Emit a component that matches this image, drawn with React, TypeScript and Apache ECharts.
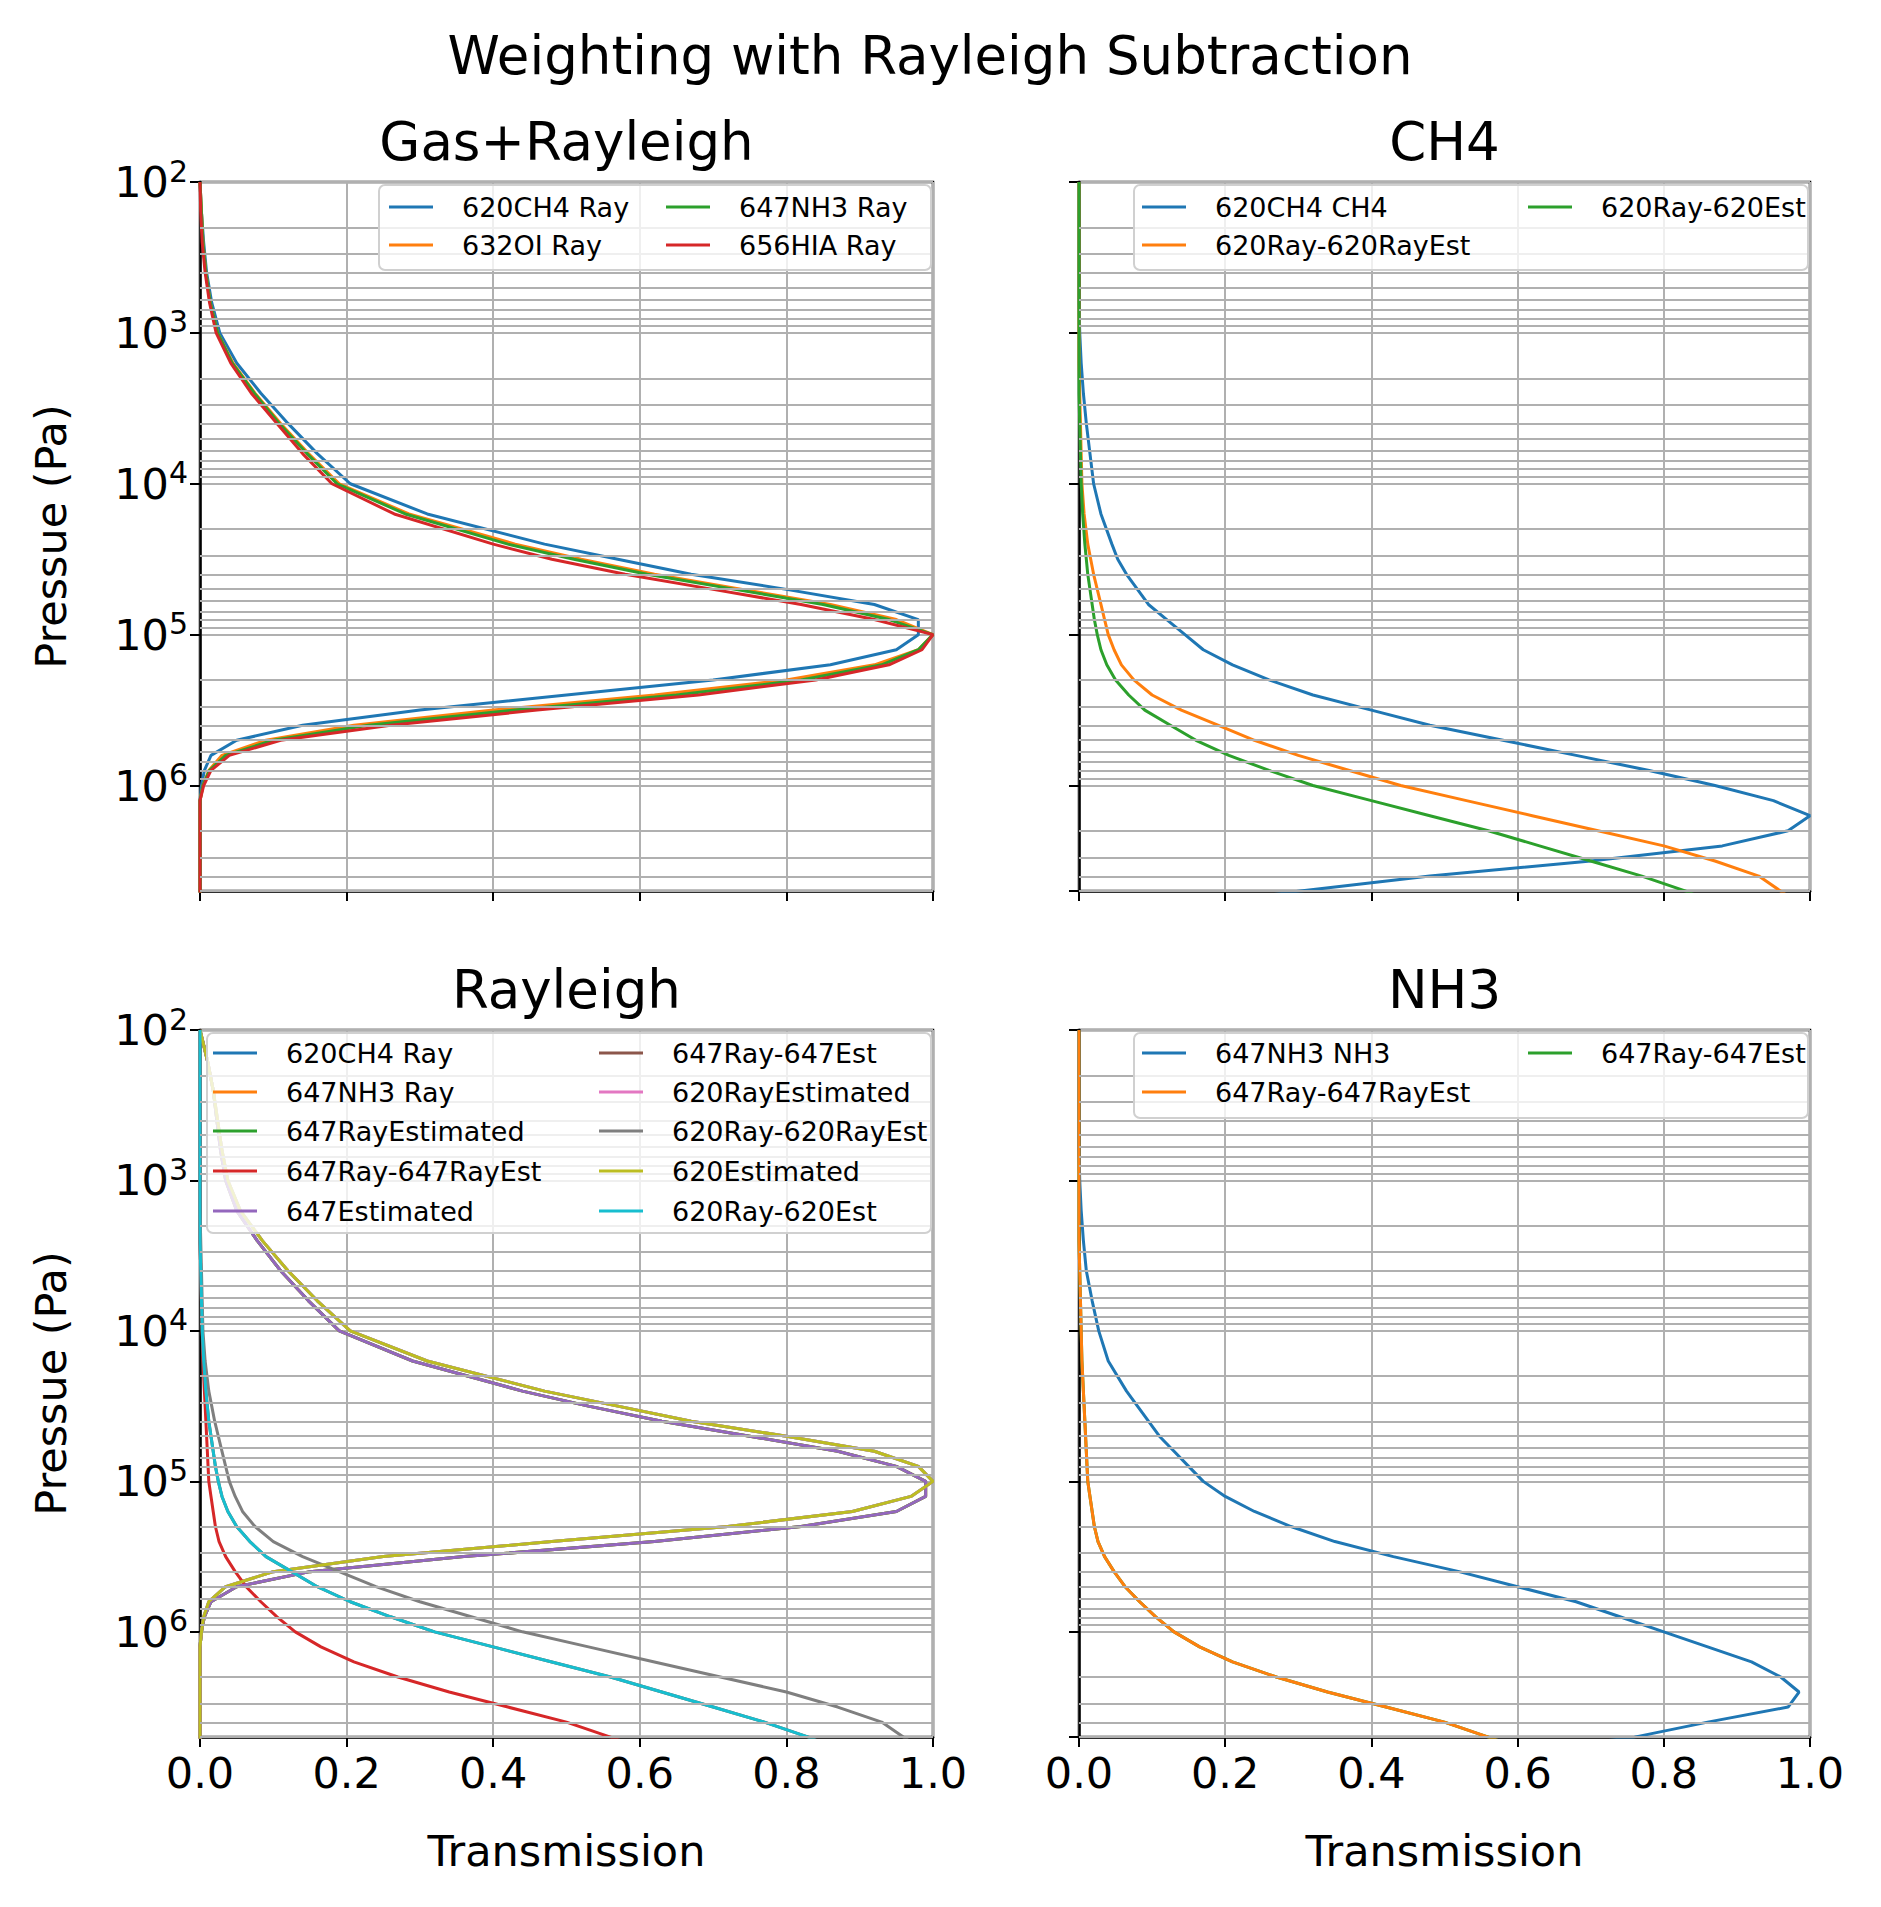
import { useEffect, useRef } from 'react'
import * as echarts from 'echarts'

const FONT = 'DejaVu Sans'

// log10 of pressure levels (Pa)
const LOG_P = [
  2.0, 2.2, 2.4, 2.6, 2.8, 3.0, 3.2, 3.4, 3.6, 3.8, 4.0, 4.2, 4.4, 4.5, 4.6, 4.7, 4.8, 4.9, 5.0,
  5.1, 5.2, 5.3, 5.4, 5.5, 5.6, 5.7, 5.8, 5.9, 6.0, 6.1, 6.2, 6.3, 6.4, 6.5, 6.6, 6.7, 6.8,
]
const PRESSURE = LOG_P.map((e) => 10 ** e)

// Gas+Rayleigh
const ray620CH4 = [0, 0.002, 0.005, 0.009, 0.016, 0.027, 0.05, 0.083, 0.12, 0.16, 0.205, 0.31, 0.47, 0.57, 0.67, 0.8, 0.92, 0.98, 0.98, 0.95, 0.86, 0.7, 0.5, 0.3, 0.14, 0.05, 0.015, 0.006, 0.002, 0, 0, 0, 0, 0, 0, 0, 0]
const ray632OI = [0, 0.002, 0.004, 0.008, 0.014, 0.024, 0.045, 0.075, 0.11, 0.148, 0.19, 0.285, 0.43, 0.52, 0.62, 0.74, 0.86, 0.95, 1.0, 0.98, 0.92, 0.8, 0.62, 0.4, 0.21, 0.09, 0.03, 0.012, 0.004, 0, 0, 0, 0, 0, 0, 0, 0]
const ray647NH3 = [0, 0.002, 0.004, 0.008, 0.014, 0.024, 0.044, 0.074, 0.108, 0.146, 0.187, 0.28, 0.42, 0.51, 0.61, 0.73, 0.85, 0.94, 1.0, 0.98, 0.93, 0.82, 0.65, 0.43, 0.23, 0.1, 0.035, 0.013, 0.004, 0, 0, 0, 0, 0, 0, 0, 0]
const ray656HIA = [0, 0.001, 0.003, 0.007, 0.013, 0.022, 0.042, 0.07, 0.105, 0.14, 0.18, 0.265, 0.4, 0.48, 0.58, 0.7, 0.82, 0.92, 1.0, 0.985, 0.94, 0.84, 0.68, 0.46, 0.26, 0.11, 0.04, 0.015, 0.005, 0, 0, 0, 0, 0, 0, 0, 0]

// CH4
const ch4_620 = [0, 0, 0, 0, 0, 0.001, 0.003, 0.006, 0.01, 0.015, 0.02, 0.03, 0.045, 0.053, 0.065, 0.08, 0.095, 0.12, 0.145, 0.17, 0.21, 0.26, 0.32, 0.4, 0.48, 0.58, 0.68, 0.78, 0.87, 0.95, 1.0, 0.97, 0.88, 0.7, 0.48, 0.3, 0.15]
const ray620MinusRayEst = [0, 0, 0, 0, 0, 0, 0, 0.001, 0.002, 0.003, 0.004, 0.007, 0.012, 0.016, 0.02, 0.025, 0.03, 0.035, 0.04, 0.048, 0.058, 0.075, 0.1, 0.14, 0.19, 0.24, 0.3, 0.37, 0.44, 0.53, 0.62, 0.71, 0.8, 0.87, 0.93, 0.96, 0.99]
const ray620MinusEst = [0, 0, 0, 0, 0, 0, 0, 0, 0.001, 0.002, 0.003, 0.005, 0.008, 0.01, 0.012, 0.015, 0.018, 0.021, 0.025, 0.03, 0.038, 0.05, 0.068, 0.09, 0.125, 0.16, 0.205, 0.26, 0.32, 0.4, 0.48, 0.56, 0.63, 0.7, 0.77, 0.83, 0.88]

// Rayleigh
const est620 = [0, 0.01, 0.018, 0.024, 0.03, 0.038, 0.055, 0.085, 0.12, 0.16, 0.205, 0.31, 0.47, 0.57, 0.67, 0.8, 0.92, 0.98, 1.0, 0.97, 0.89, 0.72, 0.48, 0.25, 0.1, 0.035, 0.012, 0.005, 0.002, 0, 0, 0, 0, 0, 0, 0, 0]
const est647 = [0, 0.01, 0.018, 0.023, 0.028, 0.035, 0.05, 0.078, 0.11, 0.148, 0.19, 0.29, 0.44, 0.53, 0.63, 0.75, 0.87, 0.95, 0.99, 0.99, 0.95, 0.82, 0.62, 0.36, 0.15, 0.05, 0.015, 0.006, 0.002, 0, 0, 0, 0, 0, 0, 0, 0]

// NH3
const nh3_647 = [0, 0, 0, 0, 0, 0.001, 0.003, 0.006, 0.01, 0.018, 0.027, 0.04, 0.065, 0.08, 0.095, 0.11, 0.13, 0.15, 0.17, 0.2, 0.24, 0.29, 0.35, 0.43, 0.52, 0.6, 0.68, 0.74, 0.8, 0.86, 0.92, 0.96, 0.985, 0.97, 0.86, 0.76, 0.6]
const ray647MinusRayEst = [0, 0, 0, 0, 0, 0, 0, 0, 0.001, 0.002, 0.003, 0.004, 0.006, 0.007, 0.008, 0.009, 0.01, 0.011, 0.012, 0.015, 0.018, 0.021, 0.026, 0.035, 0.048, 0.063, 0.083, 0.105, 0.13, 0.165, 0.21, 0.27, 0.34, 0.42, 0.5, 0.56, 0.62]

const C = ['#1f77b4', '#ff7f0e', '#2ca02c', '#d62728', '#9467bd', '#8c564b', '#e377c2', '#7f7f7f', '#bcbd22', '#17becf']

type S = { name: string; values: number[]; color: string; z?: number }
type Panel = {
  title: string
  grid: { left: number; top: number; width: number; height: number }
  series: S[]
  legend: { x: number; y: number; w: number; h: number; cols: number[]; rows: number[]; perCol: number }
  leftLabels: boolean
  bottomLabels: boolean
}

const panels: Panel[] = [
  {
    title: 'Gas+Rayleigh',
    grid: { left: 200, top: 182, width: 733, height: 709 },
    series: [
      { name: '620CH4 Ray', values: ray620CH4, color: C[0] },
      { name: '632OI Ray', values: ray632OI, color: C[1] },
      { name: '647NH3 Ray', values: ray647NH3, color: C[2] },
      { name: '656HIA Ray', values: ray656HIA, color: C[3] },
    ],
    legend: { x: 379, y: 185, w: 552, h: 85, cols: [389, 666], rows: [207, 245], perCol: 2 },
    leftLabels: true,
    bottomLabels: false,
  },
  {
    title: 'CH4',
    grid: { left: 1079, top: 182, width: 731, height: 709 },
    series: [
      { name: '620CH4 CH4', values: ch4_620, color: C[0] },
      { name: '620Ray-620RayEst', values: ray620MinusRayEst, color: C[1] },
      { name: '620Ray-620Est', values: ray620MinusEst, color: C[2] },
    ],
    legend: { x: 1134, y: 185, w: 674, h: 85, cols: [1142, 1528], rows: [207, 245], perCol: 2 },
    leftLabels: false,
    bottomLabels: false,
  },
  {
    title: 'Rayleigh',
    grid: { left: 200, top: 1030, width: 733, height: 707 },
    series: [
      { name: '620CH4 Ray', values: est620, color: C[0], z: 1 },
      { name: '647NH3 Ray', values: est647, color: C[1], z: 1 },
      { name: '647RayEstimated', values: est647, color: C[2], z: 1 },
      { name: '647Ray-647RayEst', values: ray647MinusRayEst, color: C[3], z: 3 },
      { name: '647Estimated', values: est647, color: C[4], z: 3 },
      { name: '647Ray-647Est', values: ray620MinusEst, color: C[5], z: 1 },
      { name: '620RayEstimated', values: est620, color: C[6], z: 1 },
      { name: '620Ray-620RayEst', values: ray620MinusRayEst, color: C[7], z: 3 },
      { name: '620Estimated', values: est620, color: C[8], z: 3 },
      { name: '620Ray-620Est', values: ray620MinusEst, color: C[9], z: 3 },
    ],
    legend: { x: 207, y: 1033, w: 724, h: 200, cols: [213, 599], rows: [1053, 1092, 1131, 1171, 1211], perCol: 5 },
    leftLabels: true,
    bottomLabels: true,
  },
  {
    title: 'NH3',
    grid: { left: 1079, top: 1030, width: 731, height: 707 },
    series: [
      { name: '647NH3 NH3', values: nh3_647, color: C[0], z: 3 },
      { name: '647Ray-647RayEst', values: ray647MinusRayEst, color: C[1], z: 3 },
      { name: '647Ray-647Est', values: ray647MinusRayEst, color: C[2], z: 1 },
    ],
    legend: { x: 1134, y: 1033, w: 674, h: 85, cols: [1142, 1528], rows: [1053, 1092], perCol: 2 },
    leftLabels: false,
    bottomLabels: true,
  },
]

// minor log grid positions
const MINOR_P: number[] = []
for (let d = 2; d <= 6; d++) for (let m = 2; m <= 9; m++) if (m * 10 ** d <= 5e6) MINOR_P.push(m * 10 ** d)

export default function App() {
  const ref = useRef<HTMLDivElement>(null)

  useEffect(() => {
    if (!ref.current) return
    document.body.style.margin = '0'
    const chart = echarts.init(ref.current, null, { renderer: 'svg' })

    const graphic: any[] = [
      {
        type: 'text', x: 930, y: 55, z: 100,
        style: { text: 'Weighting with Rayleigh Subtraction', fontSize: 53, fontFamily: FONT, fill: '#000', textAlign: 'center', textVerticalAlign: 'middle' },
      },
    ]
    const series: any[] = []

    panels.forEach((p, gi) => {
      graphic.push({
        type: 'text', x: p.grid.left + p.grid.width / 2, y: p.grid.top - 41, z: 100,
        style: { text: p.title, fontSize: 53, fontFamily: FONT, fill: '#000', textAlign: 'center', textVerticalAlign: 'middle' },
      })
      const L = p.legend
      graphic.push({
        type: 'rect', shape: { x: L.x, y: L.y, width: L.w, height: L.h, r: 6 }, z: 50,
        style: { fill: 'rgba(255,255,255,0.8)', stroke: '#d0d0d0', lineWidth: 2 },
      })
      p.series.forEach((s, i) => {
        const col = Math.floor(i / L.perCol)
        const row = i % L.perCol
        const lx = L.cols[col]
        const ly = L.rows[row]
        graphic.push({
          type: 'line', z: 51, shape: { x1: lx, y1: ly, x2: lx + 44, y2: ly },
          style: { stroke: s.color, lineWidth: 3 },
        })
        graphic.push({
          type: 'text', x: lx + 73, y: ly, z: 51,
          style: { text: s.name, fontSize: 27, fontFamily: FONT, fill: '#000', textVerticalAlign: 'middle' },
        })
        series.push({
          type: 'line', name: s.name, xAxisIndex: gi, yAxisIndex: gi, z: s.z ?? 2,
          data: s.values.map((v, k) => [v, PRESSURE[k]]),
          showSymbol: false, symbol: 'none', lineStyle: { color: s.color, width: 3 }, itemStyle: { color: s.color },
        })
      })
      // minor grid lines and minor ticks
      series.push({
        type: 'line', xAxisIndex: gi, yAxisIndex: gi, z: 0, data: [[0, 100]], symbol: 'none',
        lineStyle: { opacity: 0 },
        markLine: {
          silent: true, symbol: 'none', label: { show: false }, animation: false,
          lineStyle: { color: '#b0b0b0', width: 2, type: 'solid' },
          data: MINOR_P.map((v) => ({ yAxis: v })),
        },
      })
      series.push({
        type: 'line', xAxisIndex: gi, yAxisIndex: gi, z: 5, data: [[0, 100]], symbol: 'none',
        lineStyle: { opacity: 0 }, clip: false,
        markLine: {
          silent: true, symbol: 'none', label: { show: false }, animation: false,
          lineStyle: { color: '#000', width: 1.5, type: 'solid' },
          data: MINOR_P.map((v) => [{ coord: [-0.009, v] }, { coord: [0, v] }]),
        },
      })
    })

    chart.setOption({
      animation: false,
      backgroundColor: '#fff',
      grid: panels.map((p) => ({ ...p.grid, show: true, borderColor: '#000', borderWidth: 2.5 })),
      xAxis: panels.map((p, gi) => ({
        gridIndex: gi, type: 'value', min: 0, max: 1, interval: 0.2,
        axisLine: { show: true, onZero: false, lineStyle: { color: '#000', width: 2.5 } },
        axisTick: { show: true, length: 10, lineStyle: { color: '#000', width: 2 } },
        axisLabel: { show: p.bottomLabels, fontSize: 43, color: '#000', fontFamily: FONT, margin: 14, formatter: (v: number) => v.toFixed(1) },
        splitLine: { show: true, lineStyle: { color: '#b0b0b0', width: 2 } },
        name: p.bottomLabels ? 'Transmission' : '', nameLocation: 'middle', nameGap: 92,
        nameTextStyle: { fontSize: 43, color: '#000', fontFamily: FONT },
      })),
      yAxis: panels.map((p, gi) => ({
        gridIndex: gi, type: 'log', logBase: 10, min: 100, max: 5e6, inverse: true,
        axisLine: { show: true, lineStyle: { color: '#000', width: 2.5 } },
        axisTick: { show: true, length: 10, lineStyle: { color: '#000', width: 2 } },
        axisLabel: {
          show: p.leftLabels, showMaxLabel: false, color: '#000', fontSize: 43, fontFamily: FONT, margin: 12,
          formatter: (v: number) => `10{s|${Math.round(Math.log10(v))}}`,
          rich: { s: { fontSize: 30, fontFamily: FONT, color: '#000', padding: [0, 0, 22, 0] } },
        },
        splitLine: { show: true, lineStyle: { color: '#b0b0b0', width: 2 } },
        name: p.leftLabels ? 'Pressue (Pa)' : '', nameLocation: 'middle', nameGap: 128,
        nameTextStyle: { fontSize: 43, color: '#000', fontFamily: FONT },
      })),
      series,
      graphic,
    })

    return () => {
      chart.dispose()
    }
  }, [])

  return <div ref={ref} style={{ width: '1881px', height: '1907px' }} />
}
